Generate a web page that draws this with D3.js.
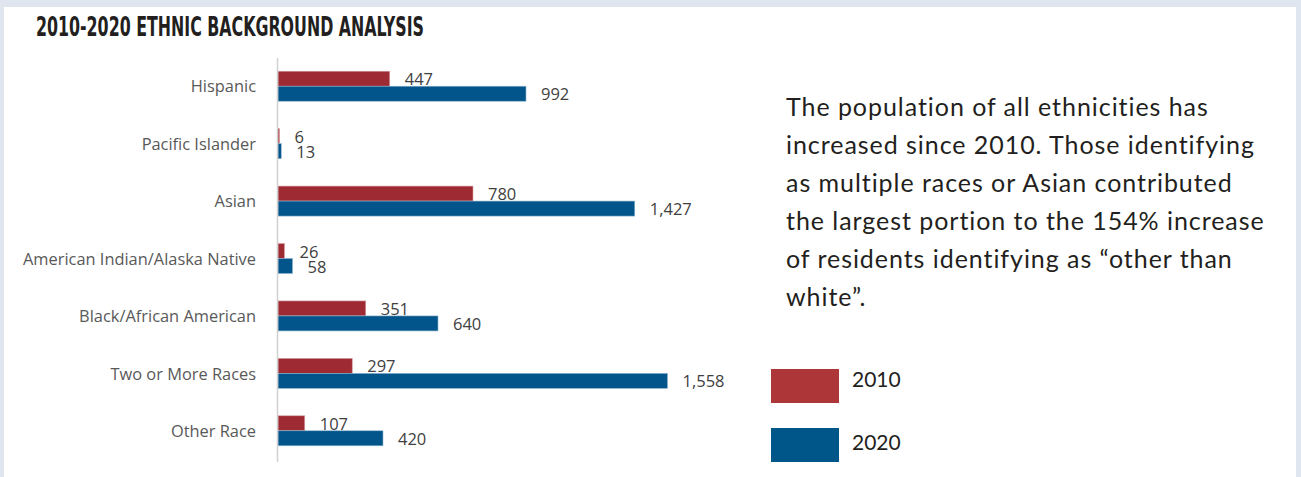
<!DOCTYPE html>
<html>
<head>
<meta charset="utf-8">
<script src="https://cdn.jsdelivr.net/npm/d3@7"></script>
<style>
  body { margin: 0; background: #dfe6ef; }
  svg { display: block; }
</style>
</head>
<body>
<div id="chart"></div>
<script>
// chart data
var categories = ["Hispanic", "Pacific Islander", "Asian", "American Indian/Alaska Native",
                  "Black/African American", "Two or More Races", "Other Race"]
var values2010 = [447, 6, 780, 26, 351, 297, 107]
var values2020 = [992, 13, 1427, 58, 640, 1558, 420]
var years = ["2010", "2020"]
var noteLines = ["The population of all ethnicities has",
                 "increased since 2010. Those identifying",
                 "as multiple races or Asian contributed",
                 "the largest portion to the 154% increase",
                 "of residents identifying as \u201cother than",
                 "white\u201d."]

var width = 1301, height = 477
var red = "#9e2a33", blue = "#02558b"

var svg = d3.select("#chart").append("svg")
    .attr("width", width)
    .attr("height", height)

// white panel
svg.append("rect")
    .attr("x", 4).attr("y", 7)
    .attr("width", 1292).attr("height", height - 7)
    .attr("fill", "#fff")

svg.append("text")
    .attr("x", 36).attr("y", 36)
    .attr("font-family", "Liberation Sans Narrow, DejaVu Sans Condensed, sans-serif")
    .attr("font-weight", "bold")
    .attr("font-size", 26.5)
    .attr("fill", "#231f20")
    .attr("textLength", 388)
    .attr("lengthAdjust", "spacingAndGlyphs")
    .text("2010-2020 ETHNIC BACKGROUND ANALYSIS")

var x = d3.scaleLinear().domain([0, 1800]).range([278, 728])
var y = d3.scaleBand().domain(categories).range([58, 460]).paddingInner(0).paddingOuter(0)
var barH = 15

var g = svg.append("g")

// category labels
g.selectAll(".cat")
  .data(categories)
  .enter().append("text")
    .attr("x", 256)
    .attr("y", d => y(d) + y.bandwidth() / 2)
    .attr("dy", "0.35em")
    .attr("text-anchor", "end")
    .attr("font-family", "Open Sans, sans-serif")
    .attr("font-size", 16.4)
    .attr("fill", "#595959")
    .text(d => d)

var mid = d => y(d) + y.bandwidth() / 2

// 2010 bars + labels (drawn first so the 2020 bars sit on top)
g.selectAll(".b10")
  .data(categories)
  .enter().append("rect")
    .attr("x", x(0))
    .attr("y", d => mid(d) - barH - 0.5)
    .attr("width", (d, i) => x(values2010[i]) - x(0))
    .attr("height", barH)
    .attr("fill", red)
    .attr("stroke", "#d9a3a7")
    .attr("stroke-width", 0.6)

g.selectAll(".l10")
  .data(categories)
  .enter().append("text")
    .attr("x", (d, i) => x(values2010[i]) + 15)
    .attr("y", d => mid(d) - barH / 2 - 0.5)
    .attr("dy", "0.4em")
    .attr("font-family", "Open Sans, sans-serif")
    .attr("font-size", 16.5)
    .attr("fill", "#404040")
    .text((d, i) => d3.format(",")(values2010[i]))

g.selectAll(".b20")
  .data(categories)
  .enter().append("rect")
    .attr("x", x(0))
    .attr("y", d => mid(d) - 0.5)
    .attr("width", (d, i) => x(values2020[i]) - x(0))
    .attr("height", barH)
    .attr("fill", blue)
    .attr("stroke", "#8fb4cf")
    .attr("stroke-width", 0.6)

g.selectAll(".l20")
  .data(categories)
  .enter().append("text")
    .attr("x", (d, i) => x(values2020[i]) + 15)
    .attr("y", d => mid(d) + barH / 2 - 0.5)
    .attr("dy", "0.4em")
    .attr("font-family", "Open Sans, sans-serif")
    .attr("font-size", 16.5)
    .attr("fill", "#404040")
    .text((d, i) => d3.format(",")(values2020[i]))

// axis line
g.append("line")
    .attr("x1", 277.5).attr("x2", 277.5)
    .attr("y1", 58).attr("y2", 462)
    .attr("stroke", "#d0d0d0")
    .attr("stroke-width", 1.5)

// note
svg.append("text")
    .attr("font-family", "Lato, sans-serif")
    .attr("font-size", 25)
    .attr("letter-spacing", 0.95)
    .attr("fill", "#231f20")
  .selectAll("tspan")
  .data(noteLines)
  .enter().append("tspan")
    .attr("x", 786)
    .attr("y", (d, i) => 116 + i * 38)
    .text(d => d)

// legend
var legend = svg.selectAll(".leg")
  .data(years)
  .enter().append("g")
    .attr("transform", (d, i) => "translate(771," + (369 + i * 59) + ")")

legend.append("rect")
    .attr("width", 68).attr("height", 34)
    .attr("fill", (d, i) => i ? "#005589" : "#ad3738")

legend.append("text")
    .attr("x", 81).attr("y", (d, i) => 10 + i * 4.5)
    .attr("dy", "0.36em")
    .attr("font-family", "Lato, sans-serif")
    .attr("font-size", 21)
    .attr("fill", "#231f20")
    .text(d => d)
</script>
</body>
</html>
